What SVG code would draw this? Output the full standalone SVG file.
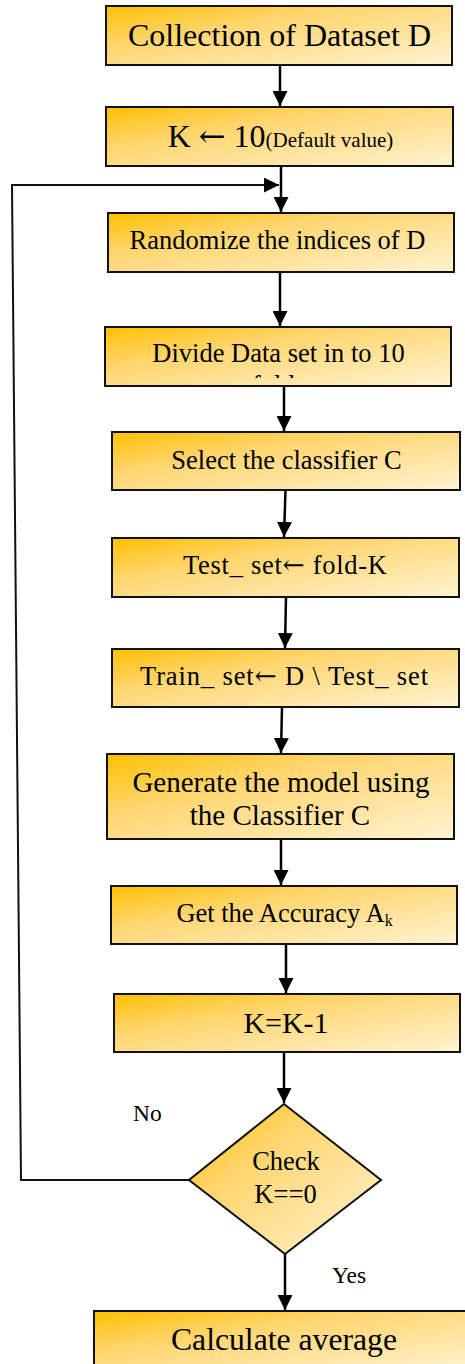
<svg xmlns="http://www.w3.org/2000/svg" width="465" height="1364" viewBox="0 0 465 1364">
  <defs>
    <linearGradient id="gold" x1="0" y1="0" x2="1" y2="1">
      <stop offset="0" stop-color="#FFC000"/>
      <stop offset="0.35" stop-color="#FFD56E"/>
      <stop offset="1" stop-color="#FFF3D2"/>
    </linearGradient>
    <marker id="arr" markerUnits="userSpaceOnUse" markerWidth="15" markerHeight="15" refX="15" refY="7.5" orient="auto">
      <path d="M0,0 L15,7.5 L0,15 Z" fill="#000"/>
    </marker>
    <clipPath id="divclip">
      <rect x="105" y="327" width="346" height="51"/>
    </clipPath>
  </defs>
  <style>
    .box { fill: url(#gold); stroke: #111; stroke-width: 2; }
    .t { fill: #000; text-anchor: middle; }
    .lbl { fill: #000; font-size: 23.5px; }
    .ar { font-family: 'DejaVu Serif', serif; }
    .c { fill: none; stroke: #000; stroke-width: 2.5; }
    .cl { fill: none; stroke: #111; stroke-width: 2; }
  </style>

  <g id="connectors">
    <line class="c" x1="280" y1="65" x2="280" y2="106" marker-end="url(#arr)"/>
    <line class="c" x1="281" y1="166" x2="281" y2="212" marker-end="url(#arr)"/>
    <line class="c" x1="280" y1="272" x2="280" y2="326" marker-end="url(#arr)"/>
    <line class="c" x1="284" y1="386" x2="284" y2="431" marker-end="url(#arr)"/>
    <line class="c" x1="285.5" y1="490" x2="284" y2="537" marker-end="url(#arr)"/>
    <line class="c" x1="286" y1="597" x2="285" y2="648" marker-end="url(#arr)"/>
    <line class="c" x1="282" y1="707" x2="281" y2="753" marker-end="url(#arr)"/>
    <line class="c" x1="281" y1="839" x2="281" y2="885" marker-end="url(#arr)"/>
    <line class="c" x1="286" y1="944" x2="286" y2="993" marker-end="url(#arr)"/>
    <line class="c" x1="284" y1="1052" x2="284" y2="1103" marker-end="url(#arr)"/>
    <line class="c" x1="285" y1="1254" x2="285" y2="1310" marker-end="url(#arr)"/>
    <polyline class="cl" points="189,1180 21,1180 12,185 279,185" marker-end="url(#arr)"/>
  </g>

  <g font-family="Liberation Serif, Times New Roman, serif">
  <g id="n1">
    <rect class="box" x="106" y="6" width="346" height="59"/>
    <text class="t" x="279.5" y="46" font-size="32">Collection of Dataset D</text>
  </g>
  <g id="n2">
    <rect class="box" x="106" y="107" width="347" height="59"/>
    <text class="t" x="280.5" y="147"><tspan font-size="32">K <tspan class="ar">←</tspan> 10</tspan><tspan font-size="21">(Default value)</tspan></text>
  </g>
  <g id="n3">
    <rect class="box" x="108" y="213" width="346" height="59"/>
    <text class="t" x="277.5" y="249" font-size="26.5">Randomize the indices of D</text>
  </g>
  <g id="n4">
    <rect class="box" x="105" y="327" width="346" height="59"/>
    <text class="t" x="278.5" y="362" font-size="26.5">Divide Data set in to 10</text>
    <text class="t" x="278.5" y="394" font-size="26.5" clip-path="url(#divclip)">folds</text>
  </g>
  <g id="n5">
    <rect class="box" x="112" y="432" width="348" height="58"/>
    <text class="t" x="286.5" y="469" font-size="26.5">Select the classifier C</text>
  </g>
  <g id="n6">
    <rect class="box" x="112" y="538" width="347" height="59"/>
    <text class="t" x="285" y="574" font-size="26.5" textLength="204" lengthAdjust="spacing">Test_ set<tspan class="ar">←</tspan> fold-K</text>
  </g>
  <g id="n7">
    <rect class="box" x="112" y="649" width="347" height="58"/>
    <text class="t" x="284" y="685" font-size="26.5" textLength="288" lengthAdjust="spacing">Train_ set<tspan class="ar">←</tspan> D \ Test_ set</text>
  </g>
  <g id="n8">
    <rect class="box" x="107" y="754" width="347" height="85"/>
    <text class="t" x="281" y="792" font-size="29">Generate the model using</text>
    <text class="t" x="280" y="825" font-size="29">the Classifier C</text>
  </g>
  <g id="n9">
    <rect class="box" x="111" y="886" width="346" height="58"/>
    <text class="t" x="284.5" y="922" font-size="26.5">Get the Accuracy A<tspan font-size="16" dy="4">k</tspan></text>
  </g>
  <g id="n10">
    <rect class="box" x="114" y="994" width="346" height="58"/>
    <text class="t" x="286" y="1033" font-size="30">K=K-1</text>
  </g>
  <g id="n11">
    <polygon class="box" points="284,1104 381,1180 285,1254 189,1180"/>
    <text class="t" x="286" y="1170" font-size="26.5">Check</text>
    <text class="t" x="285.5" y="1203" font-size="26.5">K==0</text>
  </g>
  <g id="n12">
    <rect class="box" x="94" y="1311" width="380" height="60"/>
    <text class="t" x="284" y="1350" font-size="31.7">Calculate average</text>
  </g>
  <g id="labels">
    <text class="lbl" x="133" y="1121">No</text>
    <text class="lbl" x="332" y="1283">Yes</text>
  </g>
  </g>
</svg>
